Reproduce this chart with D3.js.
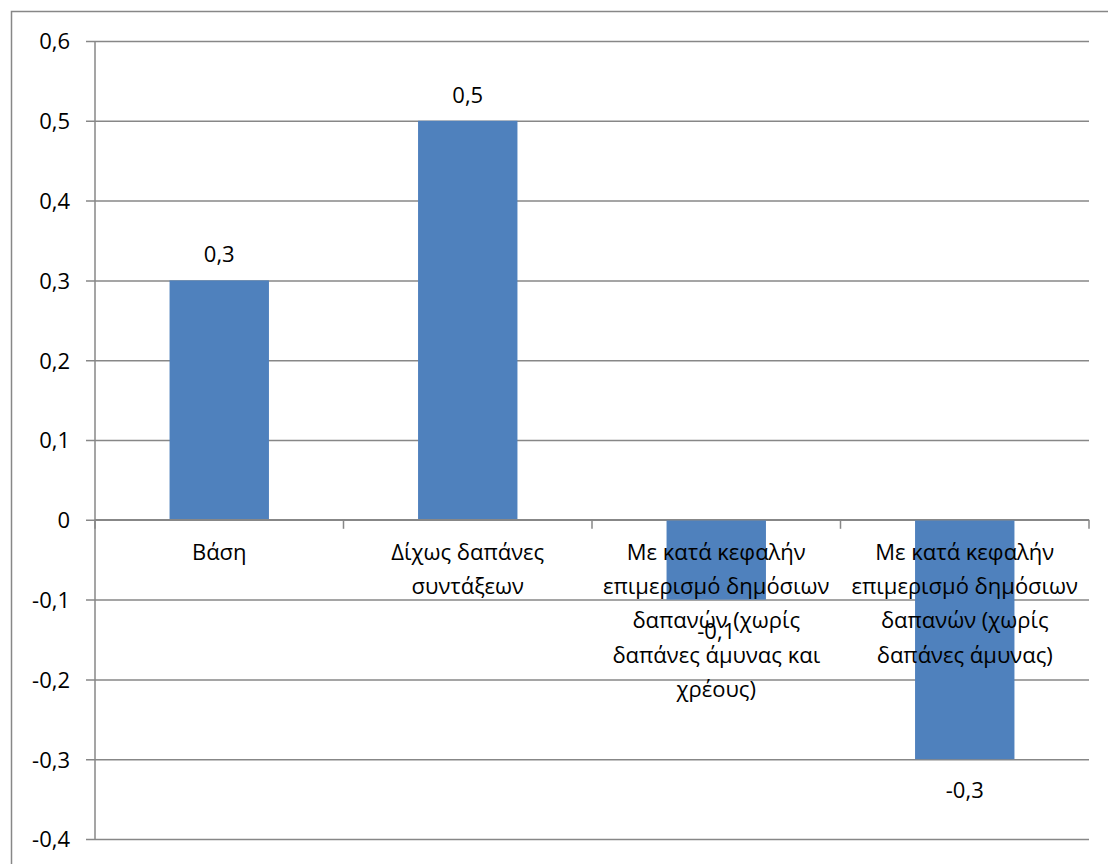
<!DOCTYPE html>
<html><head><meta charset="utf-8">
<script src="https://cdn.jsdelivr.net/npm/d3@7"></script>
<style>body{margin:0;background:#fff}svg{display:block}text{font-family:"Open Sans","Noto Sans",sans-serif;fill:#000}</style>
</head><body><svg id="c" width="1108" height="864"></svg>
<script>
const categories = ["Βάση", "Δίχως δαπάνες συντάξεων", "Με κατά κεφαλήν επιμερισμό δημόσιων δαπανών (χωρίς δαπάνες άμυνας και χρέους)", "Με κατά κεφαλήν επιμερισμό δημόσιων δαπανών (χωρίς δαπάνες άμυνας)"];
const values = [0.3, 0.5, -0.1, -0.3];
const yTicks = [-0.4, -0.3, -0.2, -0.1, 0, 0.1, 0.2, 0.3, 0.4, 0.5, 0.6];

(function () {
const svg = d3.select("#c");
const fmt = v => (Math.abs(v) < 1e-9 ? "0" : d3.format(".1f")(v).replace(".", ",").replace("−", "-"));
const mL = 95, mR = 1089, mT = 41, mB = 839;
const y = d3.scaleLinear().domain([-0.4, 0.6]).range([mB, mT]);
const x = d3.scaleBand().domain(categories).range([mL, mR]).paddingInner(0.6).paddingOuter(0.3);
const xb = d3.scaleBand().domain(categories).range([mL, mR]);
const fs = 22;

svg.append("path").attr("d", "M11.5,864 V11.5 H1108").attr("fill", "none").attr("stroke", "#878787").attr("stroke-width", 1.5);

const yAxis = d3.axisLeft(y).tickValues(yTicks).tickSize(-(mR - mL)).tickPadding(0).tickFormat(fmt);
const gy = svg.append("g").attr("transform", `translate(${mL},0)`).call(yAxis);
gy.select(".domain").remove();
gy.selectAll(".tick line").attr("x1", -9).attr("stroke", "#878787").attr("stroke-width", 1.5);
gy.selectAll(".tick text").attr("x", -25).attr("dy", "0.36em").style("font-size", fs + "px").style("font-family", '"Open Sans","Noto Sans",sans-serif').attr("fill", "#000");
svg.append("line").attr("x1", mL).attr("x2", mL).attr("y1", mT).attr("y2", mB).attr("stroke", "#878787").attr("stroke-width", 1.5);

svg.selectAll("rect.bar").data(values).join("rect")
  .attr("x", (d, i) => x(categories[i]))
  .attr("width", x.bandwidth())
  .attr("y", d => y(Math.max(0, d)))
  .attr("height", d => Math.abs(y(d) - y(0)))
  .attr("fill", "#4F81BD");

svg.append("line").attr("x1", mL).attr("x2", mR).attr("y1", y(0)).attr("y2", y(0)).attr("stroke", "#878787").attr("stroke-width", 1.5);
const bounds = categories.map(c => xb(c)).concat([mR]);
svg.selectAll("line.xt").data(bounds).join("line").attr("class", "xt")
  .attr("x1", d => d).attr("x2", d => d).attr("y1", y(0)).attr("y2", y(0) + 9)
  .attr("stroke", "#878787").attr("stroke-width", 1.5);

const maxW = 240;
categories.forEach(c => {
  const t = svg.append("text").attr("text-anchor", "middle").style("font-size", fs + "px")
    .attr("x", xb(c) + xb.bandwidth() / 2).attr("y", y(0) + 40);
  const words = c.split(" ");
  let lines = [], cur = [];
  const tmp = svg.append("text").style("font-size", fs + "px");
  words.forEach(w => {
    const trial = cur.concat([w]).join(" ");
    tmp.text(trial);
    if (tmp.node().getComputedTextLength() > maxW && cur.length) { lines.push(cur.join(" ")); cur = [w]; }
    else cur.push(w);
  });
  if (cur.length) lines.push(cur.join(" "));
  tmp.remove();
  lines.forEach((l, i) => t.append("tspan").attr("x", xb(c) + xb.bandwidth() / 2).attr("dy", i ? 34.3 : 0).text(l));
});

svg.selectAll("text.val").data(values).join("text").attr("class", "val")
  .attr("text-anchor", "middle").style("font-size", fs + "px")
  .attr("x", (d, i) => x(categories[i]) + x.bandwidth() / 2)
  .attr("y", d => d >= 0 ? y(d) - 18 : y(d) + 39)
  .text(fmt);
})();
</script></body></html>
